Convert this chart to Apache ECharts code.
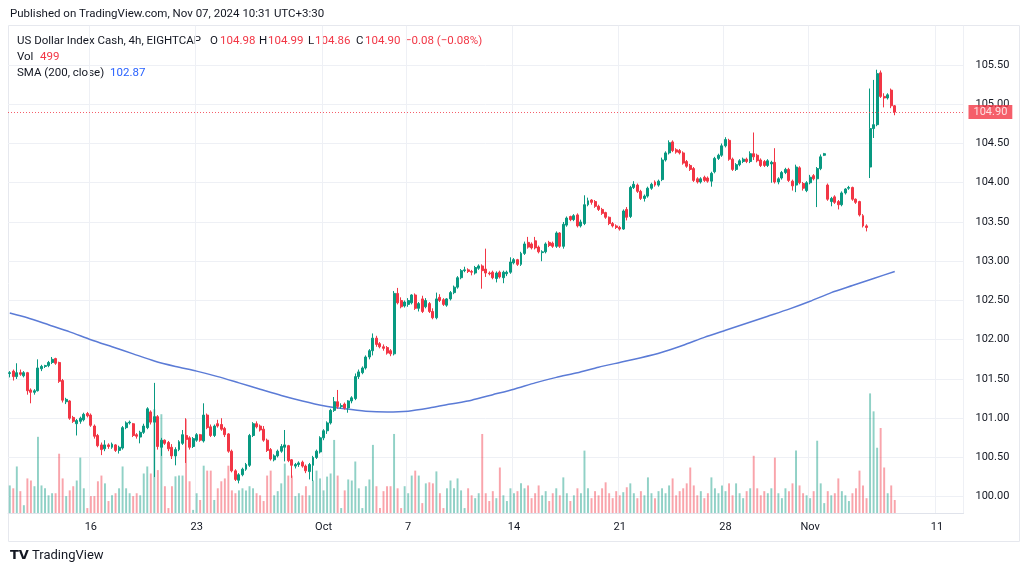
<!DOCTYPE html>
<html><head><meta charset="utf-8">
<script src="https://cdn.jsdelivr.net/npm/echarts@6/dist/echarts.min.js"></script>
<style>html,body{margin:0;padding:0;background:#fff}#c{width:1030px;height:574px}</style>
</head><body><div id="c"></div>
<script>
// ---- DATA ----
const days = ['Sep 10','Sep 11','Sep 12','Sep 13','Sep 16','Sep 17','Sep 18','Sep 19','Sep 20',
  'Sep 23','Sep 24','Sep 25','Sep 26','Sep 27','Sep 30','Oct 1','Oct 2','Oct 3','Oct 4',
  'Oct 7','Oct 8','Oct 9','Oct 10','Oct 11','Oct 14','Oct 15','Oct 16','Oct 17','Oct 18',
  'Oct 21','Oct 22','Oct 23','Oct 24','Oct 25','Oct 28','Oct 29','Oct 30','Oct 31','Nov 1',
  'Nov 4','Nov 5','Nov 6','Nov 7','Nov 8','Nov 11','Nov 12'];
const slots = ['01:30','05:30','09:30','13:30','17:30','21:30'];
const tickDays = ['Sep 16','Sep 23','Oct 1','Oct 7','Oct 14','Oct 21','Oct 28','Nov 1','Nov 11'];
const tickTexts = ['16','23','Oct','7','14','21','28','Nov','11'];

// [open, high, low, close], 4h candles
const candles = [
[101.57,101.60,101.52,101.58],[101.60,101.62,101.48,101.53],[101.53,101.70,101.50,101.58],[101.58,101.62,101.54,101.56],[101.54,101.60,101.52,101.58],
[101.58,101.59,101.30,101.35],[101.36,101.38,101.19,101.33],[101.33,101.37,101.30,101.35],[101.35,101.75,101.34,101.64],[101.63,101.68,101.60,101.66],
[101.66,101.68,101.64,101.67],[101.67,101.73,101.65,101.71],[101.71,101.78,101.69,101.75],[101.76,101.77,101.68,101.70],[101.71,101.72,101.45,101.47],
[101.48,101.50,101.20,101.23],[101.21,101.26,101.18,101.24],[101.22,101.23,100.98,101.00],[101.01,101.03,100.94,100.96],[100.93,100.99,100.78,100.97],
[100.96,101.02,100.93,101.00],[100.98,101.07,100.96,101.05],[101.06,101.08,101.01,101.03],[101.04,101.06,100.89,100.91],[100.90,100.92,100.74,100.77],
[100.78,100.80,100.63,100.65],[100.66,100.69,100.53,100.60],[100.61,100.72,100.58,100.66],[100.66,100.68,100.61,100.64],[100.63,100.69,100.61,100.67],
[100.66,100.67,100.57,100.59],[100.59,100.65,100.55,100.63],[100.62,100.90,100.60,100.88],[100.88,100.96,100.86,100.94],[100.94,100.97,100.92,100.95],
[100.93,100.94,100.76,100.78],[100.79,100.81,100.74,100.77],[100.76,100.84,100.68,100.82],[100.82,100.93,100.80,100.90],[100.88,101.14,100.86,101.12],
[101.08,101.10,100.92,100.95],[100.95,101.45,100.25,101.02],[101.02,101.04,100.60,100.64],[100.63,100.75,100.52,100.72],[100.72,100.73,100.66,100.68],
[100.69,100.71,100.58,100.61],[100.63,100.67,100.48,100.52],[100.52,100.63,100.40,100.60],[100.60,100.72,100.58,100.70],[100.68,100.85,100.66,100.79],
[100.78,101.00,100.43,100.73],[100.75,100.77,100.60,100.63],[100.64,100.76,100.62,100.74],[100.72,100.81,100.70,100.79],[100.79,100.80,100.70,100.72],
[100.71,101.19,100.69,101.04],[101.04,101.06,100.86,100.88],[100.89,100.92,100.76,100.78],[100.78,100.92,100.76,100.90],[100.93,100.98,100.88,100.90],
[100.92,101.00,100.84,100.86],[100.87,100.89,100.76,100.79],[100.80,100.81,100.56,100.58],[100.58,100.60,100.31,100.33],[100.33,100.35,100.20,100.22],
[100.21,100.30,100.17,100.28],[100.28,100.37,100.26,100.35],[100.35,100.43,100.33,100.41],[100.40,100.80,100.38,100.78],[100.78,100.95,100.76,100.93],
[100.93,100.96,100.87,100.89],[100.90,100.92,100.83,100.85],[100.86,100.90,100.70,100.72],[100.72,100.74,100.57,100.59],[100.60,100.62,100.46,100.48],
[100.47,100.54,100.45,100.52],[100.52,100.60,100.50,100.58],[100.58,100.67,100.56,100.64],[100.63,100.85,100.45,100.66],[100.65,100.66,100.44,100.46],
[100.47,100.48,100.24,100.40],[100.39,100.43,100.36,100.41],[100.41,100.45,100.38,100.43],[100.44,100.46,100.37,100.39],[100.39,100.41,100.30,100.33],
[100.32,100.43,100.22,100.41],[100.40,100.52,100.20,100.50],[100.50,100.60,100.48,100.58],[100.57,100.77,100.55,100.75],[100.75,100.86,100.72,100.84],
[100.84,100.96,100.80,100.94],[100.94,101.12,100.92,101.10],[101.10,101.27,101.08,101.21],[101.21,101.36,101.12,101.15],[101.15,101.19,101.12,101.16],
[101.18,101.20,101.11,101.13],[101.13,101.23,101.07,101.22],[101.22,101.28,101.19,101.26],[101.25,101.57,101.23,101.53],[101.53,101.62,101.50,101.59],
[101.58,101.66,101.56,101.64],[101.64,101.80,101.62,101.78],[101.78,101.88,101.75,101.86],[101.86,102.08,101.80,102.02],[102.02,102.05,101.91,101.94],
[101.95,101.97,101.89,101.91],[101.91,101.94,101.86,101.89],[101.90,101.92,101.81,101.83],[101.86,101.88,101.79,101.82],[101.82,102.62,101.80,102.59],
[102.59,102.66,102.45,102.47],[102.50,102.54,102.40,102.42],[102.43,102.50,102.41,102.48],[102.45,102.53,102.42,102.50],[102.47,102.58,102.45,102.57],
[102.57,102.59,102.38,102.40],[102.40,102.48,102.36,102.46],[102.52,102.56,102.34,102.36],[102.42,102.53,102.40,102.50],[102.46,102.48,102.34,102.36],
[102.36,102.40,102.26,102.28],[102.28,102.60,102.26,102.52],[102.54,102.58,102.48,102.50],[102.51,102.53,102.43,102.45],[102.44,102.53,102.42,102.52],
[102.52,102.62,102.50,102.60],[102.60,102.69,102.58,102.67],[102.67,102.81,102.65,102.79],[102.79,102.90,102.77,102.88],[102.88,102.93,102.86,102.89],
[102.89,102.91,102.85,102.87],[102.87,102.89,102.82,102.86],[102.85,102.94,102.83,102.92],[102.91,102.96,102.89,102.94],[102.94,102.96,102.65,102.88],
[102.90,103.16,102.80,102.85],[102.85,102.87,102.82,102.84],[102.86,102.88,102.77,102.79],[102.78,102.87,102.73,102.85],[102.86,102.88,102.78,102.80],
[102.79,102.88,102.72,102.86],[102.84,102.88,102.81,102.86],[102.86,103.05,102.84,102.99],[102.98,103.04,102.96,103.02],[103.02,103.03,102.94,102.96],
[102.96,103.12,102.94,103.10],[103.10,103.25,103.08,103.22],[103.24,103.31,103.16,103.18],[103.22,103.24,103.15,103.17],[103.26,103.31,103.15,103.17],
[103.18,103.20,103.10,103.12],[103.11,103.14,103.00,103.12],[103.12,103.24,103.10,103.22],[103.24,103.26,103.18,103.20],[103.23,103.25,103.17,103.19],
[103.19,103.38,103.17,103.36],[103.36,103.37,103.17,103.19],[103.19,103.50,103.16,103.47],[103.46,103.57,103.44,103.55],[103.57,103.58,103.51,103.53],
[103.53,103.60,103.51,103.58],[103.59,103.61,103.43,103.45],[103.45,103.53,103.43,103.50],[103.48,103.84,103.46,103.72],[103.72,103.81,103.70,103.77],
[103.78,103.79,103.72,103.75],[103.76,103.78,103.68,103.70],[103.70,103.72,103.64,103.66],[103.66,103.68,103.59,103.61],[103.62,103.63,103.54,103.56],
[103.56,103.57,103.46,103.48],[103.48,103.50,103.43,103.45],[103.45,103.47,103.41,103.43],[103.43,103.45,103.39,103.41],[103.41,103.66,103.40,103.64],
[103.66,103.69,103.52,103.56],[103.57,103.96,103.55,103.94],[103.94,104.02,103.92,103.98],[103.97,103.99,103.87,103.89],[103.89,103.91,103.78,103.80],
[103.80,103.85,103.76,103.83],[103.83,103.95,103.81,103.93],[103.93,104.00,103.91,103.98],[104.01,104.03,103.95,103.97],[103.97,104.04,103.95,104.02],
[104.04,104.32,104.02,104.29],[104.29,104.40,104.27,104.38],[104.38,104.54,104.36,104.51],[104.52,104.54,104.39,104.41],[104.42,104.44,104.37,104.39],
[104.41,104.43,104.36,104.38],[104.38,104.40,104.23,104.25],[104.27,104.29,104.19,104.21],[104.22,104.24,104.15,104.17],[104.18,104.20,104.01,104.03],
[104.05,104.07,103.99,104.01],[104.01,104.07,103.99,104.05],[104.07,104.09,104.01,104.03],[104.06,104.08,104.00,104.02],[104.02,104.14,103.95,104.12],
[104.14,104.33,104.12,104.31],[104.31,104.37,104.29,104.35],[104.35,104.50,104.33,104.47],[104.47,104.58,104.45,104.55],[104.54,104.56,104.28,104.30],
[104.30,104.32,104.15,104.17],[104.17,104.25,104.15,104.23],[104.23,104.30,104.21,104.28],[104.27,104.32,104.25,104.30],[104.30,104.32,104.25,104.27],
[104.27,104.40,104.25,104.37],[104.37,104.64,104.29,104.33],[104.35,104.37,104.26,104.28],[104.29,104.31,104.20,104.22],[104.27,104.29,104.20,104.22],
[104.22,104.30,104.20,104.28],[104.24,104.28,104.00,104.26],[104.26,104.44,103.99,104.01],[104.01,104.07,103.98,104.05],[104.06,104.15,104.04,104.13],
[104.13,104.19,104.11,104.17],[104.17,104.19,104.01,104.03],[104.02,104.04,103.90,103.96],[103.97,104.23,103.88,104.20],[104.19,104.21,103.98,104.00],
[103.99,104.01,103.90,103.93],[103.90,104.02,103.88,104.00],[104.00,104.10,103.98,104.07],[104.09,104.11,104.03,104.05],[104.05,104.20,103.69,104.18],
[104.18,104.36,104.16,104.33],[104.35,104.38,104.34,104.37],[103.97,103.99,103.77,103.79],[103.76,103.82,103.70,103.80],[103.82,103.84,103.73,103.75],
[103.76,103.78,103.66,103.72],[103.72,103.89,103.70,103.87],[103.87,103.93,103.85,103.92],[103.93,103.96,103.91,103.94],[103.94,103.95,103.77,103.79],
[103.79,103.80,103.73,103.75],[103.76,103.77,103.57,103.59],[103.58,103.60,103.43,103.45],[103.45,103.47,103.38,103.43],[104.20,105.20,104.06,104.69],
[104.69,105.31,104.57,104.74],[104.74,105.44,104.72,105.39],[105.40,105.43,105.08,105.10],[105.10,105.14,104.96,105.08],[105.08,105.14,105.06,105.12],
[105.18,105.20,104.95,104.98],[104.98,104.99,104.86,104.90]
];

const volumes = [
1060,950,1790,840,300,1330,1250,1030,2930,1060,
950,680,760,760,2280,1330,650,870,1030,1250,
2130,950,190,650,650,1220,1440,1140,460,680,
760,950,1790,950,760,650,760,680,1520,1790,
1520,3990,1650,3800,1030,190,1030,1410,1440,1440,
3610,1220,120,760,500,1820,1630,1630,500,950,
1220,1330,1820,870,760,870,950,870,1030,950,
760,680,460,1440,1630,680,840,1140,1900,1440,
1440,650,760,680,1030,680,1250,1630,1330,870,
1400,1520,2810,1440,190,870,1290,1250,1980,950,
190,1030,1290,2620,1030,190,840,1030,1030,3040,
950,190,1030,760,1440,1630,1440,380,1140,1180,
1140,1600,760,190,950,1250,950,1330,870,190,
950,680,570,760,3040,760,460,840,570,1750,
680,460,950,760,840,1140,950,1060,570,760,
1060,680,840,460,760,950,680,1370,760,460,
680,950,760,2400,950,570,840,680,950,1180,
760,570,840,680,800,990,1140,760,570,840,
680,1370,760,570,840,950,760,1060,1330,680,
840,950,1140,1750,1060,680,840,570,760,1370,
950,760,1060,840,1140,680,1140,760,570,840,
950,2200,950,680,840,760,950,2130,760,570,
950,840,1140,2400,1060,760,680,570,840,2780,
1140,380,840,680,760,1330,840,680,460,760,
950,1630,1060,570,4600,3910,2510,3270,1750,760,
1060,499
];

// SMA(200, close), read at the first bar of each day
const smaDays = ['Sep 10','Sep 11','Sep 12','Sep 13','Sep 16','Sep 17','Sep 18','Sep 19','Sep 20',
  'Sep 23','Sep 24','Sep 25','Sep 26','Sep 27','Sep 30','Oct 1','Oct 2','Oct 3','Oct 4',
  'Oct 7','Oct 8','Oct 9','Oct 10','Oct 11','Oct 14','Oct 15','Oct 16','Oct 17','Oct 18',
  'Oct 21','Oct 22','Oct 23','Oct 24','Oct 25','Oct 28','Oct 29','Oct 30','Oct 31','Nov 1',
  'Nov 4','Nov 5','Nov 6','Nov 7'];
const smaValues = [102.34,102.28,102.19,102.10,102.00,101.91,101.82,101.73,101.66,
  101.60,101.53,101.45,101.37,101.29,101.22,101.16,101.12,101.09,101.08,
  101.09,101.13,101.18,101.23,101.30,101.37,101.45,101.52,101.58,101.65,
  101.71,101.77,101.84,101.93,102.03,102.12,102.21,102.30,102.39,102.49,
  102.60,102.69,102.78,102.87];

// legend texts and their left positions
const legendItems = [
  { x: 17, label: 'US Dollar Index Cash, 4h, EIGHTCAP', value: '' },
  { x: 210, label: 'O', value: '104.98' },
  { x: 259, label: 'H', value: '104.99' },
  { x: 308, label: 'L', value: '104.86' },
  { x: 356, label: 'C', value: '104.90' },
  { x: 405, label: '', value: '−0.08 (−0.08%)' }
];

const lastPrice = 104.90, lastSma = 102.87, lastVol = 499;

// ---- BUILD ----
const categories = [];
const dayFirst = {};
days.forEach((d, di) => {
  const from = di === 0 ? 1 : 0;
  const to = di === days.length - 1 ? 2 : 6;
  for (let s = from; s < to; s++) {
    const name = d + ' ' + slots[s];
    if (s === from) dayFirst[d] = name;
    categories.push(name);
  }
});
const labelOf = {};
tickDays.forEach((d, k) => { labelOf[dayFirst[d]] = tickTexts[k]; });

const UP = '#089981', DOWN = '#f23645';
const FONT = 'Roboto, "Liberation Sans", sans-serif';
const candleData = candles.map(([o,h,l,c]) => [o, c, l, h]);
const volData = volumes.map((v, i) => {
  const o = candles[i][0], c = candles[i][3];
  return { value: v, itemStyle: { color: c >= o ? 'rgba(8,153,129,0.45)' : 'rgba(242,54,69,0.45)' } };
});
const smaData = smaDays.map((d, k) => [dayFirst[d], smaValues[k]]);

const chart = echarts.init(document.getElementById('c'), null, { renderer: 'canvas' });
const isTick = (i, v) => labelOf[v] !== undefined;
const HS = 11.5;

const txt = (x, y, s, color) => ({ type: 'text', x: x, y: y, style: { text: s, fontSize: HS, fill: color, fontFamily: FONT, textVerticalAlign: 'middle' } });
const legendGraphics = [];
legendItems.forEach(it => {
  const g = { type: 'group', x: it.x, y: 41, children: [] };
  let off = 0;
  if (it.label) {
    g.children.push(txt(0, 0, it.label, '#131722'));
    off = echarts.format.getTextRect ? 0 : 0;
  }
  legendGraphics.push(g);
});

chart.setOption({
  animation: false,
  textStyle: { fontFamily: FONT },
  grid: [
    { left: 8, right: 66.5, top: 25.75, bottom: 38.05 },
    { left: 8, right: 66.5, top: 383, bottom: 61 },
    { left: 8, right: 66.5, top: 25.75, bottom: 61 }
  ],
  xAxis: [
    { type: 'category', data: categories, gridIndex: 0, axisLine: { show: false }, axisTick: { show: false },
      axisLabel: { show: false }, splitLine: { show: false } },
    { type: 'category', data: categories, gridIndex: 1,
      axisLine: { show: true, lineStyle: { color: '#e0e3eb' } }, axisTick: { show: false },
      axisLabel: { interval: isTick, formatter: v => labelOf[v] || '', color: '#131722', fontSize: 11, margin: 9, fontFamily: FONT },
      splitLine: { show: false } },
    { type: 'category', data: categories, gridIndex: 2, axisLine: { show: false }, axisTick: { show: false },
      axisLabel: { show: false }, splitLine: { show: true, interval: isTick, lineStyle: { color: '#eef0f5' } } }
  ],
  yAxis: [
    { type: 'value', gridIndex: 0, position: 'right', min: 99.5, max: 106, interval: 0.5,
      axisLine: { show: false }, axisTick: { show: false },
      axisLabel: { showMinLabel: false, showMaxLabel: false, formatter: v => v.toFixed(2), color: '#131722', fontSize: 11, margin: 12, fontFamily: FONT },
      splitLine: { show: true, showMinLine: false, showMaxLine: false, lineStyle: { color: '#eef0f5' } } },
    { type: 'value', gridIndex: 1, min: 0, max: 5000, show: false },
    { type: 'value', gridIndex: 2, show: false, min: 0, max: 1 }
  ],
  series: [
    { type: 'bar', name: 'Vol', xAxisIndex: 1, yAxisIndex: 1, data: volData, barWidth: '55%', z: 1,
      markLine: { silent: true, symbol: 'none', data: [{ yAxis: lastVol }], lineStyle: { opacity: 0 },
        label: { position: 'end', formatter: String(lastVol), backgroundColor: '#f0525e', color: '#fff', padding: [2, 5, 1, 5], fontSize: 11, fontFamily: FONT, distance: 5 } } },
    { type: 'line', name: 'SMA', xAxisIndex: 0, yAxisIndex: 0, data: smaData, showSymbol: false, smooth: 0.2, z: 3,
      lineStyle: { color: '#5b7bd6', width: 1.5 },
      markLine: { silent: true, symbol: 'none', data: [{ yAxis: lastSma }], lineStyle: { opacity: 0 },
        label: { position: 'end', formatter: lastSma.toFixed(2), backgroundColor: '#2962ff', color: '#fff', padding: [2, 5, 1, 5], fontSize: 11, fontFamily: FONT, distance: 5 } } },
    { type: 'candlestick', name: 'DXY', xAxisIndex: 0, yAxisIndex: 0, data: candleData, barWidth: '70%', z: 4,
      itemStyle: { color: UP, color0: DOWN, borderColor: UP, borderColor0: DOWN, borderWidth: 1 },
      markLine: { silent: true, symbol: 'none', data: [{ yAxis: lastPrice }],
        lineStyle: { color: DOWN, type: [1, 2], width: 1, opacity: 0.8 },
        label: { position: 'end', formatter: lastPrice.toFixed(2), backgroundColor: DOWN, color: '#fff', padding: [2, 5, 1, 5], fontSize: 11, fontFamily: FONT, distance: 5 } } }
  ],
  graphic: [
    { type: 'rect', shape: { x: 8.5, y: 25.5, width: 1011, height: 516 }, style: { fill: 'none', stroke: '#e6e8ee', lineWidth: 1 }, silent: true, z: -1 },
    txt(10, 14, 'Published on TradingView.com, Nov 07, 2024 10:31 UTC+3:30', '#131722'),
    txt(17, 41, legendItems[0].label, '#131722'),
    txt(210, 41, 'O', '#131722'), txt(220, 41, legendItems[1].value, DOWN),
    txt(259, 41, 'H', '#131722'), txt(268, 41, legendItems[2].value, DOWN),
    txt(308, 41, 'L', '#131722'), txt(315, 41, legendItems[3].value, DOWN),
    txt(356, 41, 'C', '#131722'), txt(365, 41, legendItems[4].value, DOWN),
    txt(405, 41, legendItems[5].value, DOWN),
    txt(17, 57, 'Vol', '#131722'), txt(40, 57, String(lastVol), DOWN),
    txt(17, 73, 'SMA (200, close)', '#131722'), txt(110, 73, lastSma.toFixed(2), '#2962ff'),
    { type: 'text', x: 10, y: 556, style: { text: 'TV', fontSize: 13, fontWeight: 'bold', fill: '#131722', fontFamily: '"DejaVu Sans", sans-serif', textVerticalAlign: 'middle' } },
    { type: 'text', x: 32, y: 556, style: { text: 'TradingView', fontSize: 13, fill: '#131722', fontFamily: FONT, textVerticalAlign: 'middle' } }
  ]
});
</script>
</body></html>
